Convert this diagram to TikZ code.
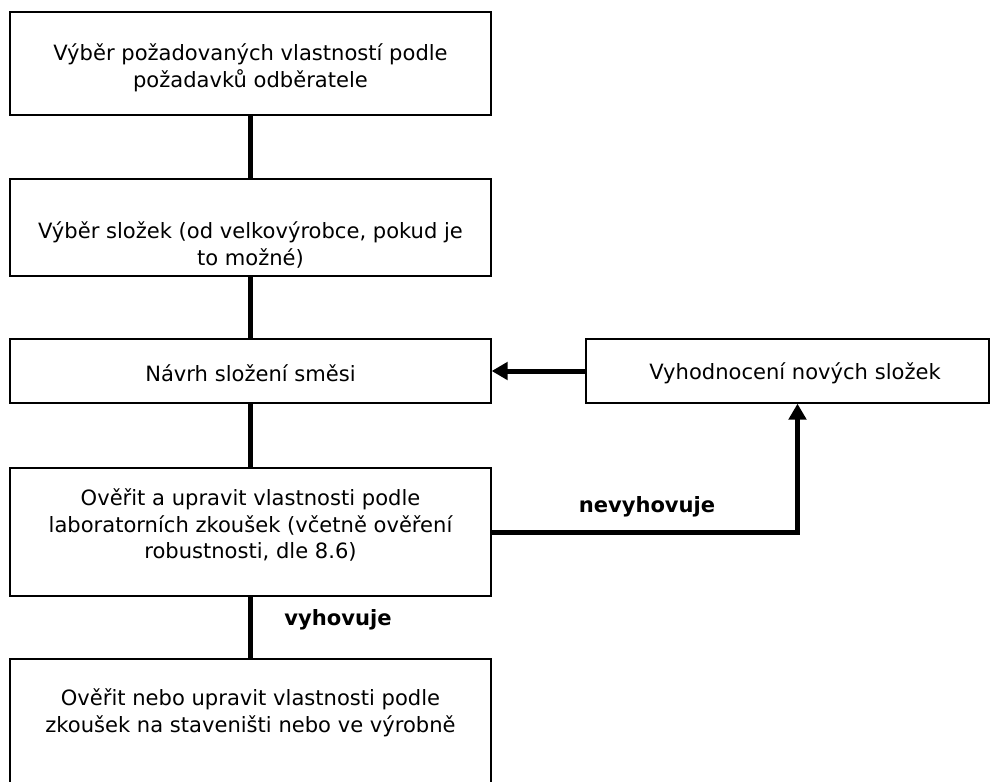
\documentclass[tikz,border=0pt]{standalone}
\usepackage{fontspec}
\setmainfont{DejaVu Sans}
\usetikzlibrary{arrows.meta}

\begin{document}
\begin{tikzpicture}[x=0.75pt,y=-0.75pt,
    box/.style={draw, line width=1pt, minimum width=360.75pt, inner sep=0pt},
    txt/.style={align=center, font=\fontsize{15.8}{20}\selectfont},
    lbl/.style={font=\fontsize{15.8}{20}\selectfont\bfseries},
    conn/.style={line width=3.75pt},
    tip/.style={-{Triangle[length=12pt,width=13pt]}}]

    \useasboundingbox (0,0) rectangle (990,782);

    % boxes on the left
    \node[box, minimum height=77.25pt] (b1) at (250.5,63.5) {};
    \node[box, minimum height=72.75pt] (b2) at (250.5,227.5) {};
    \node[box, minimum height=48pt] (b3) at (250.5,371) {};
    \node[box, minimum height=96pt] (b4) at (250.5,532) {};
    \node[box, minimum height=105.75pt] (b5) at (250.5,729.5) {};

    % box on the right
    \node[box, minimum width=302.25pt, minimum height=48pt] (b6) at (787.5,371) {};

    % texts
    \node[txt] (t1) at (250.5,68) {Výběr požadovaných vlastností podle\\požadavků odběratele};
    \node[txt] (t2) at (250.5,245) {Výběr složek (od velkovýrobce, pokud je\\to možné)};
    \node[txt] (t3) at (250.5,373) {Návrh složení směsi};
    \node[txt] (t4) at (250.5,525) {Ověřit a upravit vlastnosti podle\\laboratorních zkoušek (včetně ověření\\robustnosti, dle 8.6)};
    \node[txt] (t5) at (250.5,713) {Ověřit nebo upravit vlastnosti podle\\zkoušek na staveništi nebo ve výrobně};
    \node[txt] (t6) at (795,373) {Vyhodnocení nových složek};

    % connectors
    \draw[conn] (b1) -- (b2);
    \draw[conn] (b2) -- (b3);
    \draw[conn] (b3) -- (b4);
    \draw[conn] (b4) -- (b5);
    \draw[conn, tip] (b6) -- (b3);
    \draw[conn, tip] (b4.east) -| ([xshift=7.5pt]b6.south);

    \node[lbl] (yes) at (338,620) {vyhovuje};
    \node[lbl] (no) at (647,507) {nevyhovuje};

\end{tikzpicture}
\end{document}
